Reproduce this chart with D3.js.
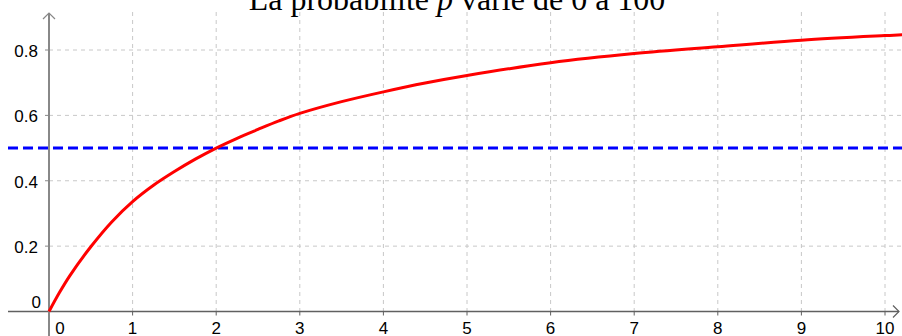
<!DOCTYPE html>
<html>
<head>
<meta charset="utf-8">
<script src="https://cdn.jsdelivr.net/npm/d3@7"></script>
<style>
html,body{margin:0;padding:0;background:#fff;}
svg{display:block;}
</style>
</head>
<body>
<svg id="chart" width="902" height="336"></svg>
<script>
// Data
const xValues = [0, 0.125, 0.25, 0.5, 0.75, 1, 1.25, 1.5, 1.75, 2, 2.25, 2.5, 2.75, 3, 3.5, 4, 4.5, 5, 6, 7, 8, 9, 10, 10.25];
const pValues = [0, 0.058, 0.11, 0.198, 0.274, 0.336, 0.386, 0.428, 0.466, 0.5, 0.53, 0.557, 0.583, 0.606, 0.642, 0.672, 0.699, 0.722, 0.761, 0.789, 0.81, 0.83, 0.844, 0.847];
const thresholdValue = 0.5;
const xTicks = [0, 1, 2, 3, 4, 5, 6, 7, 8, 9, 10];
const yTicks = [0, 0.2, 0.4, 0.6, 0.8];
const yTickLabels = ["0", "0.2", "0.4", "0.6", "0.8"];

const W = 902, H = 336;
const svg = d3.select("#chart");
const x = d3.scaleLinear().domain([0, 10]).range([49, 885]);
const y = d3.scaleLinear().domain([0, 0.8]).range([311.5, 50]);
const plotTop = 12, plotLeft = 8;

const gridColor = "#c8c8c8";
// vertical grid
svg.append("g").selectAll("line").data(xTicks.filter(d => d !== 0)).join("line")
  .attr("x1", d => x(d)).attr("x2", d => x(d))
  .attr("y1", plotTop).attr("y2", y(0))
  .attr("stroke", gridColor).attr("stroke-width", 1).attr("stroke-dasharray", "4,4");
// horizontal grid
svg.append("g").selectAll("line").data(yTicks.filter(d => d !== 0)).join("line")
  .attr("x1", x(0)).attr("x2", W)
  .attr("y1", d => y(d)).attr("y2", d => y(d))
  .attr("stroke", gridColor).attr("stroke-width", 1).attr("stroke-dasharray", "4,4");

// axes
svg.append("line").attr("x1", plotLeft).attr("x2", 899).attr("y1", y(0)).attr("y2", y(0))
  .attr("stroke", "#606060").attr("stroke-width", 1.5);
svg.append("path").attr("d", `M${893},${y(0)-6} L${899},${y(0)} L${893},${y(0)+6}`)
  .attr("fill", "none").attr("stroke", "#606060").attr("stroke-width", 1.2);
svg.append("line").attr("x1", x(0)).attr("x2", x(0)).attr("y1", H).attr("y2", 13)
  .attr("stroke", "#888").attr("stroke-width", 2);
svg.append("path").attr("d", `M${x(0)-6},${19} L${x(0)},${13} L${x(0)+6},${19}`)
  .attr("fill", "none").attr("stroke", "#888").attr("stroke-width", 1.2);

// ticks
svg.append("g").selectAll("line").data(xTicks.filter(d => d !== 0)).join("line")
  .attr("x1", d => x(d)).attr("x2", d => x(d))
  .attr("y1", y(0)).attr("y2", y(0) + 4)
  .attr("stroke", "#606060").attr("stroke-width", 1);
svg.append("g").selectAll("line").data(yTicks.filter(d => d !== 0)).join("line")
  .attr("x1", x(0) - 4).attr("x2", x(0))
  .attr("y1", d => y(d)).attr("y2", d => y(d))
  .attr("stroke", "#888").attr("stroke-width", 1);

// tick labels
const labelFont = "'Liberation Sans', Arial, sans-serif";
svg.append("g").selectAll("text").data(xTicks).join("text")
  .attr("x", d => d === 0 ? x(0) + 11 : x(d))
  .attr("y", 334)
  .attr("text-anchor", "middle")
  .attr("font-family", labelFont).attr("font-size", 17).attr("fill", "#000")
  .text(d => String(d));
svg.append("g").selectAll("text").data(yTicks).join("text")
  .attr("x", (d, i) => i === 0 ? 41 : 38)
  .attr("y", d => d === 0 ? y(0) - 4 : y(d) + 7)
  .attr("text-anchor", "end")
  .attr("font-family", labelFont).attr("font-size", 17).attr("fill", "#000")
  .text((d, i) => yTickLabels[i]);

// threshold line
svg.append("line").attr("x1", plotLeft).attr("x2", W)
  .attr("y1", y(thresholdValue)).attr("y2", y(thresholdValue))
  .attr("stroke", "#0000ff").attr("stroke-width", 3).attr("stroke-dasharray", "10,5");

// curve
const pts = xValues.map((v, i) => [v, pValues[i]]);
const line = d3.line().x(d => x(d[0])).y(d => y(d[1])).curve(d3.curveCatmullRom.alpha(0.5));
svg.append("path").datum(pts).attr("d", line)
  .attr("fill", "none").attr("stroke", "#ff0000").attr("stroke-width", 3)
  .attr("stroke-linejoin", "round");

// title
const title = svg.append("text").attr("x", 457).attr("y", 10)
  .attr("text-anchor", "middle")
  .attr("font-family", "'Liberation Serif', 'Times New Roman', serif")
  .attr("font-size", 32).attr("fill", "#000");
title.append("tspan").text("La probabilité ");
title.append("tspan").attr("font-style", "italic").text("p");
title.append("tspan").text(" varie de 0 à 100");
</script>
</body>
</html>
